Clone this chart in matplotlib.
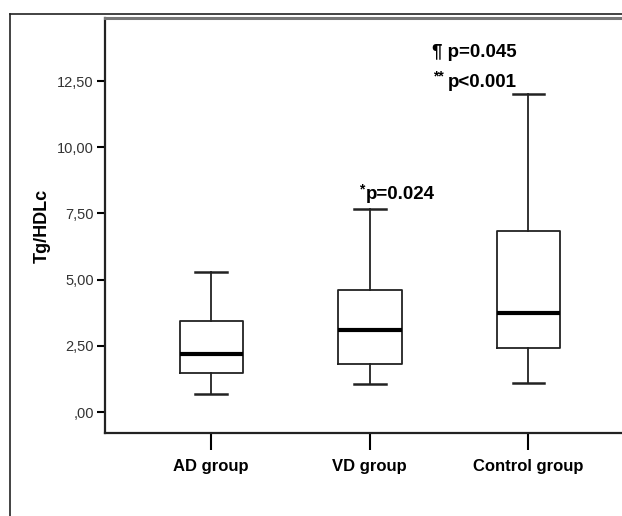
import matplotlib
matplotlib.use("Agg")
import matplotlib.pyplot as plt
from matplotlib.lines import Line2D

# box statistics
groups = ["AD group", "VD group", "Control group"]
whislo = [0.67, 1.07, 1.11]
q1 = [1.47, 1.82, 2.43]
med = [2.19, 3.10, 3.74]
q3 = [3.45, 4.61, 6.84]
whishi = [5.29, 7.65, 12.00]
yticks = [0, 2.5, 5, 7.5, 10, 12.5]
ytick_labels = [",00", "2,50", "5,00", "7,50", "10,00", "12,50"]

plt.rcParams["font.family"] = ["Liberation Sans", "DejaVu Sans"]

fig = plt.figure(figsize=(6.22, 5.16), dpi=100)
ax = fig.add_axes([105 / 622, 83 / 516, 1 - 105 / 622, 415 / 516])

stats = []
for i in range(len(groups)):
    stats.append({"label": groups[i], "whislo": whislo[i], "q1": q1[i], "med": med[i],
                  "q3": q3[i], "whishi": whishi[i], "fliers": []})

ax.bxp(stats, positions=[1, 2, 3], widths=0.40, showfliers=False,
       boxprops=dict(color="#222222", linewidth=1.3),
       whiskerprops=dict(color="#222222", linewidth=1.3),
       capprops=dict(color="#222222", linewidth=1.8),
       medianprops=dict(color="black", linewidth=3.0),
       capwidths=0.20)

ax.set_xlim(0.33, 3.59)
ax.set_ylim(-0.79, 14.88)
ax.set_yticks(yticks)
ax.set_yticklabels(ytick_labels, fontsize=10.5, color="#333333")
ax.set_xticks([1, 2, 3])
ax.set_xticklabels(groups, fontsize=12, fontweight="bold")
ax.tick_params(axis="y", length=6, width=1.5, direction="out", pad=2)
ax.tick_params(axis="x", length=12, width=1.5, direction="out", pad=7)
ax.set_ylabel("Tg/HDLc", fontsize=13, fontweight="bold")
ax.yaxis.set_label_coords(-0.104, 0.5)

for s in ["left", "bottom"]:
    ax.spines[s].set_linewidth(1.6)
    ax.spines[s].set_color("#222222")
ax.spines["top"].set_linewidth(2.2)
ax.spines["top"].set_color("#777777")
ax.spines["right"].set_visible(False)

# p-value annotations
ax.text(1.93, 8.42, "*", fontsize=10, fontweight="bold", ha="left", va="center")
ax.text(1.975, 8.20, "p=0.024", fontsize=13.5, fontweight="bold", ha="left", va="center")
ax.text(2.394, 13.56, "¶ p=0.045", fontsize=13.5, fontweight="bold", ha="left", va="center")
ax.text(2.40, 12.66, "**", fontsize=10, fontweight="bold", ha="left", va="center")
ax.text(2.49, 12.45, "p<0.001", fontsize=13.5, fontweight="bold", ha="left", va="center")

# outer frame of the original figure
fig.add_artist(Line2D([10 / 622, 10 / 622], [0, 1 - 14 / 516], color="#222222", linewidth=1.2))
fig.add_artist(Line2D([10 / 622, 1], [1 - 14 / 516, 1 - 14 / 516], color="#222222", linewidth=1.2))

fig.savefig("out.png", dpi=100)
